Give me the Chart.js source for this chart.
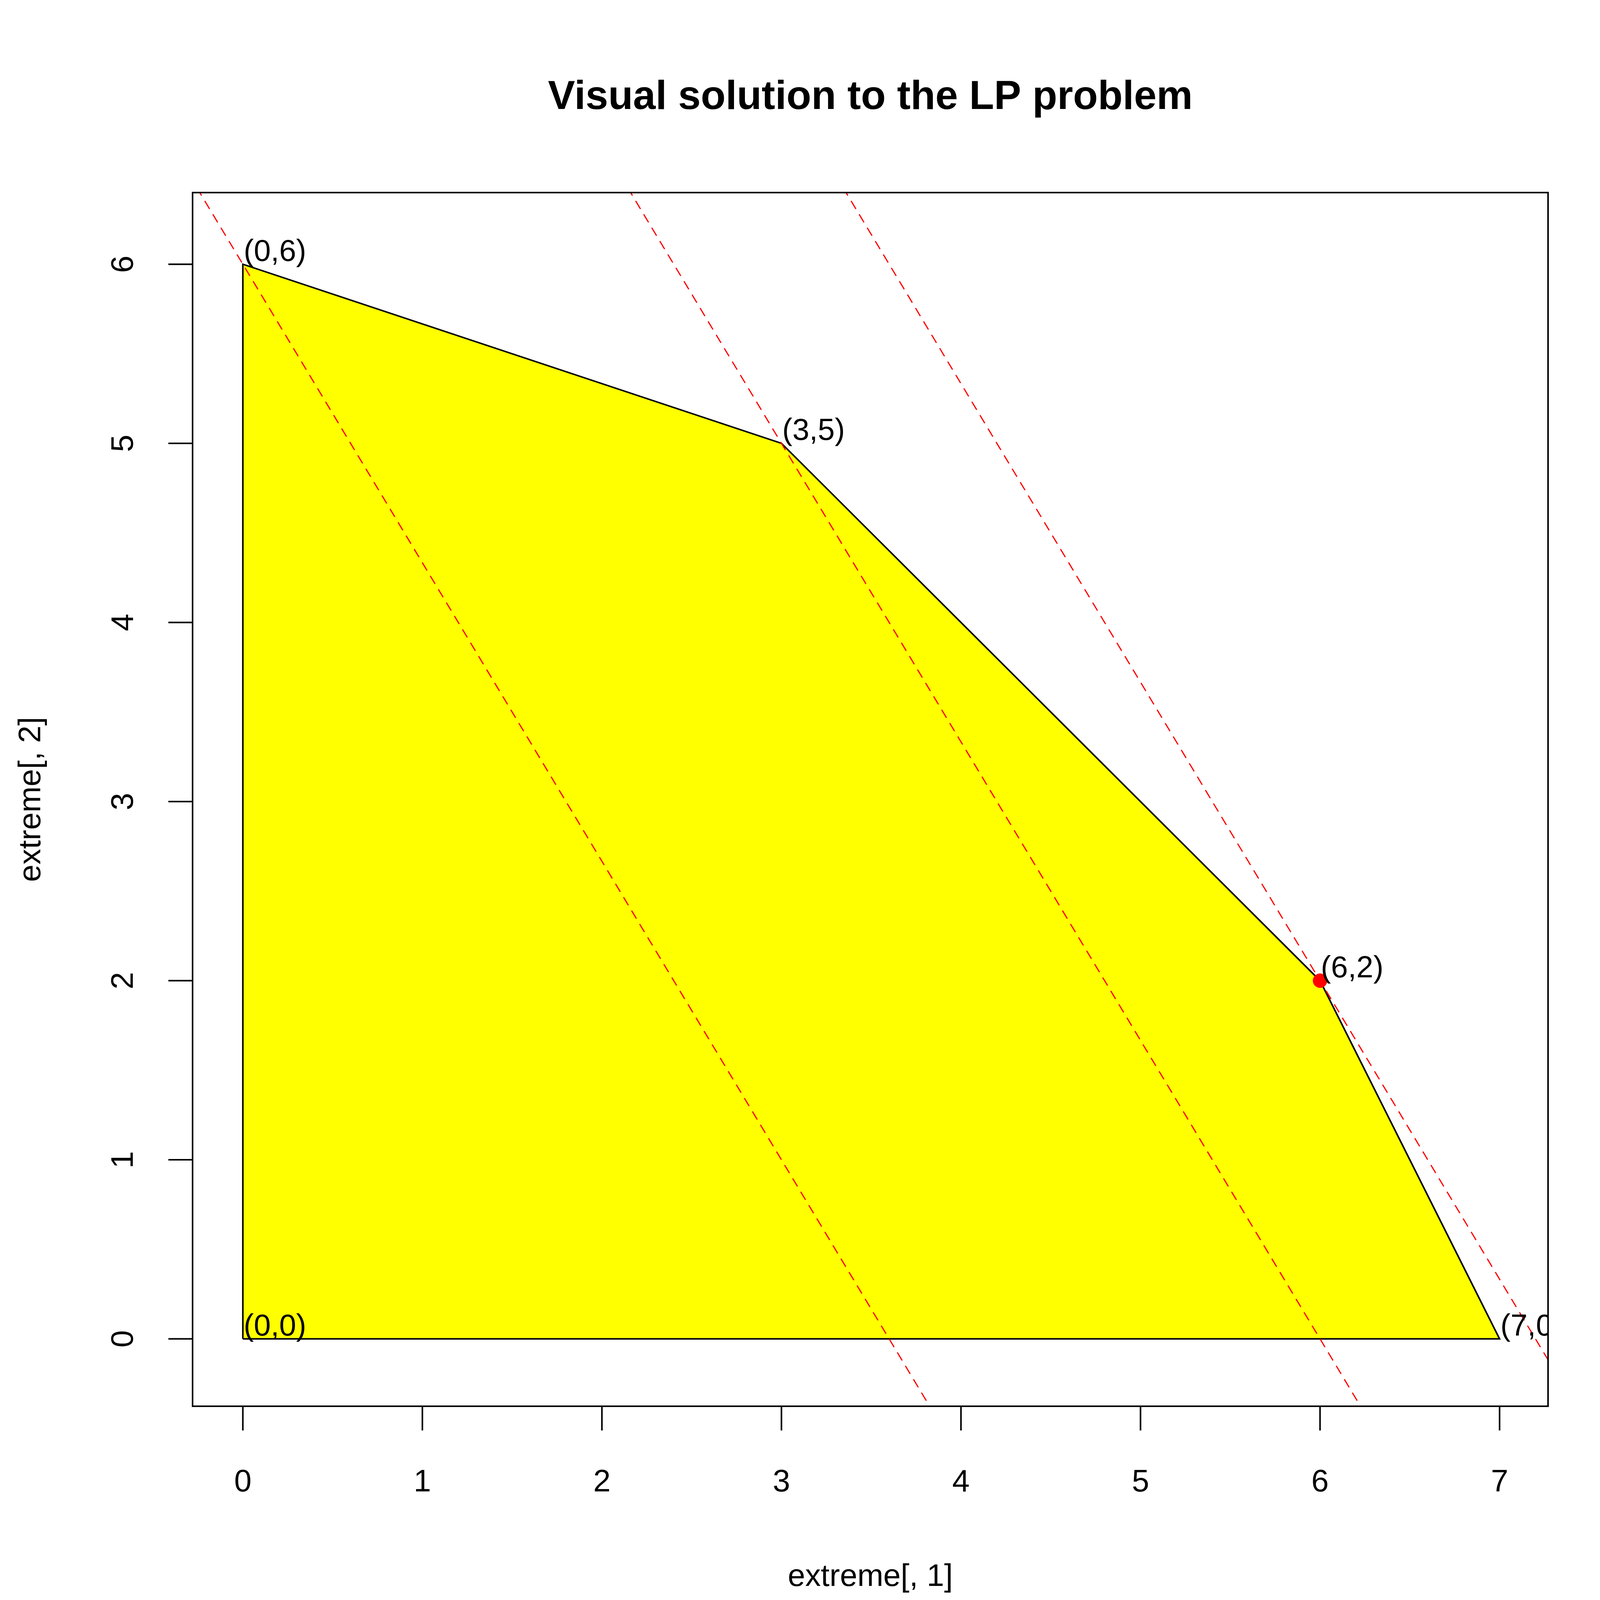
<!DOCTYPE html>
<html>
<head>
<meta charset="utf-8">
<script src="https://cdn.jsdelivr.net/npm/chart.js@4/dist/chart.umd.min.js"></script>
<style>
  html, body { margin: 0; padding: 0; background: #fff; }
</style>
</head>
<body>
<canvas id="lp" width="4200" height="4200" style="width:4200px;height:4200px"></canvas>
<script>
// feasible region vertices
const vertexX = [0, 0, 3, 6, 7];
const vertexY = [0, 6, 5, 2, 0];
const vertexLabels = ["(0,0)", "(0,6)", "(3,5)", "(6,2)", "(7,0)"];
// objective 5x + 3y = z, three iso-lines
const objCoef = [5, 3];
const objLevels = [18, 30, 36];
const optimum = [6, 2];
const xTicks = [0, 1, 2, 3, 4, 5, 6, 7];
const yTicks = [0, 1, 2, 3, 4, 5, 6];

const X_MIN = -0.28, X_MAX = 7.27, Y_MIN = -0.376, Y_MAX = 6.4;
const FONT = "'Liberation Sans', Arial, sans-serif";

const polygon = vertexX.map((x, i) => ({ x: x, y: vertexY[i] }));
polygon.push({ x: vertexX[0], y: vertexY[0] });

const isoLines = objLevels.map((z) => {
  const yTop = Y_MAX + 1, yBot = Y_MIN - 1;
  return {
    type: "line",
    data: [
      { x: (z - objCoef[1] * yTop) / objCoef[0], y: yTop },
      { x: (z - objCoef[1] * yBot) / objCoef[0], y: yBot },
    ],
    showLine: true,
    borderColor: "#ff0000",
    borderWidth: 3,
    borderDash: [24, 16],
    pointRadius: 0,
    fill: false,
    order: 1,
  };
});

// R-style axes, box, labels
const rAxes = {
  id: "rAxes",
  afterDatasetsDraw(chart) {
    const ctx = chart.ctx, a = chart.chartArea;
    const xs = chart.scales.x, ys = chart.scales.y;
    ctx.save();
    // vertex labels, clipped to plot
    ctx.beginPath();
    ctx.rect(a.left, a.top, a.right - a.left, a.bottom - a.top);
    ctx.clip();
    ctx.fillStyle = "#000";
    ctx.font = "78px " + FONT;
    ctx.textAlign = "left";
    ctx.textBaseline = "middle";
    vertexLabels.forEach((t, i) => {
      ctx.fillText(t, xs.getPixelForValue(vertexX[i]) + 2, ys.getPixelForValue(vertexY[i]) - 30);
    });
    ctx.restore();

    ctx.save();
    ctx.strokeStyle = "#000";
    ctx.lineWidth = 4;
    ctx.setLineDash([]);
    ctx.strokeRect(a.left, a.top, a.right - a.left, a.bottom - a.top);
    const tl = 62;
    const xb = a.bottom;
    ctx.beginPath();
    ctx.moveTo(xs.getPixelForValue(xTicks[0]), xb);
    ctx.lineTo(xs.getPixelForValue(xTicks[xTicks.length - 1]), xb);
    xTicks.forEach((v) => {
      const p = xs.getPixelForValue(v);
      ctx.moveTo(p, xb); ctx.lineTo(p, xb + tl);
    });
    ctx.moveTo(a.left, ys.getPixelForValue(yTicks[0]));
    ctx.lineTo(a.left, ys.getPixelForValue(yTicks[yTicks.length - 1]));
    yTicks.forEach((v) => {
      const p = ys.getPixelForValue(v);
      ctx.moveTo(a.left, p); ctx.lineTo(a.left - tl, p);
    });
    ctx.stroke();

    ctx.fillStyle = "#000";
    ctx.font = "80px " + FONT;
    ctx.textAlign = "center";
    ctx.textBaseline = "middle";
    xTicks.forEach((v) => ctx.fillText(String(v), xs.getPixelForValue(v), 3796));
    yTicks.forEach((v) => {
      ctx.save();
      ctx.translate(318, ys.getPixelForValue(v));
      ctx.rotate(-Math.PI / 2);
      ctx.fillText(String(v), 0, 0);
      ctx.restore();
    });
    ctx.fillText("extreme[, 1]", (a.left + a.right) / 2, 4038);
    ctx.save();
    ctx.translate(81, (a.top + a.bottom) / 2);
    ctx.rotate(-Math.PI / 2);
    ctx.fillText("extreme[, 2]", 0, 0);
    ctx.restore();
    ctx.font = "bold 104px " + FONT;
    ctx.fillText("Visual solution to the LP problem", (a.left + a.right) / 2, 250);
    ctx.restore();
  },
};

new Chart(document.getElementById("lp"), {
  type: "scatter",
  data: {
    datasets: [
      {
        type: "scatter",
        data: [{ x: optimum[0], y: optimum[1] }],
        pointRadius: 18,
        pointBackgroundColor: "#ff0000",
        pointBorderColor: "#ff0000",
        order: 0,
      },
      ...isoLines,
      {
        type: "line",
        data: polygon,
        showLine: true,
        borderColor: "#000",
        borderWidth: 4,
        backgroundColor: "#ffff00",
        fill: "shape",
        tension: 0,
        pointRadius: 0,
        order: 2,
      },
    ],
  },
  options: {
    responsive: false,
    animation: false,
    devicePixelRatio: 1,
    layout: { padding: { left: 493, right: 237, top: 493, bottom: 600 } },
    plugins: { legend: { display: false }, tooltip: { enabled: false } },
    scales: {
      x: { type: "linear", min: X_MIN, max: X_MAX, display: false },
      y: { type: "linear", min: Y_MIN, max: Y_MAX, display: false },
    },
  },
  plugins: [rAxes],
});
</script>
</body>
</html>
